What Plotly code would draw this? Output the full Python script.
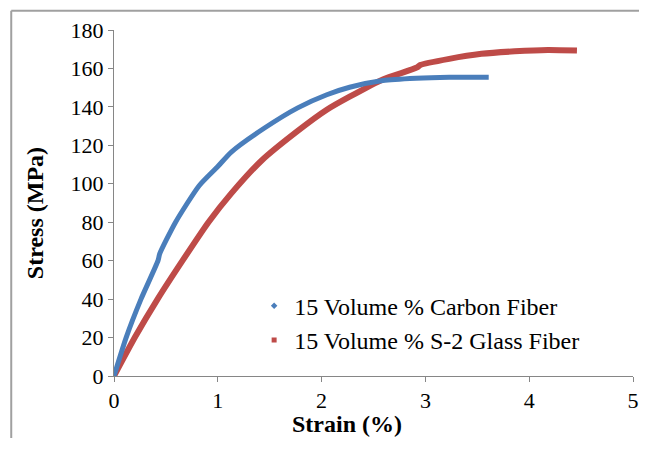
import plotly.graph_objects as go

# Data
carbon_strain = [0, 0.117, 0.26, 0.424, 0.44, 0.593, 0.82, 1.0, 1.13, 1.45, 1.77,
                 2.05, 2.27, 2.59, 2.91, 3.23, 3.61]
carbon_stress = [0, 20, 40, 60, 63.5, 80, 99, 109, 116.5, 129, 139.5,
                 146.3, 150.2, 153.7, 154.9, 155.4, 155.4]

glass_strain = [0, 0.2, 0.42, 0.66, 0.91, 1.13, 1.42, 1.77, 2.05, 2.27, 2.59, 2.92,
                2.95, 3.23, 3.54, 3.86, 4.18, 4.46]
glass_stress = [0, 20, 40, 60, 80, 95, 112, 127.5, 138.5, 145.3, 154.3, 160.5,
                161.8, 165, 167.6, 168.9, 169.6, 169.3]

series_names = ["15 Volume % Carbon Fiber", "15 Volume % S-2 Glass Fiber"]
x_ticks = [0, 1, 2, 3, 4, 5]
y_ticks = [0, 20, 40, 60, 80, 100, 120, 140, 160, 180]

BLUE = "#4A7EBB"
RED = "#BE4B48"
FONT = "Liberation Serif"

fig = go.Figure()
fig.add_trace(go.Scatter(x=glass_strain, y=glass_stress, mode="lines",
                         line=dict(color=RED, width=6, shape="spline", smoothing=0.6),
                         showlegend=False, hoverinfo="skip"))
fig.add_trace(go.Scatter(x=carbon_strain, y=carbon_stress, mode="lines",
                         line=dict(color=BLUE, width=5, shape="spline", smoothing=0.6),
                         showlegend=False, hoverinfo="skip"))
# legend entries (markers as in the reference)
fig.add_trace(go.Scatter(x=[None], y=[None], mode="markers", name=series_names[0],
                         marker=dict(symbol="diamond", size=5, color=BLUE)))
fig.add_trace(go.Scatter(x=[None], y=[None], mode="markers", name=series_names[1],
                         marker=dict(symbol="square", size=5, color=RED)))

axis_common = dict(showgrid=False, zeroline=False, showline=True, linecolor="#868686",
                   linewidth=1, ticks="outside", tickcolor="#868686", ticklen=5,
                   automargin=False,
                   tickfont=dict(family=FONT, size=22, color="black"))

fig.update_xaxes(range=[0, 5], tickvals=x_ticks, ticktext=[str(v) for v in x_ticks],
                 **axis_common)
fig.update_yaxes(range=[0, 180], tickvals=y_ticks, ticktext=[str(v) for v in y_ticks],
                 **axis_common)

# the page body adds an 8px margin, so the figure is sized/placed to fit inside it
fig.update_layout(
    width=631, height=430,
    margin=dict(l=106, r=6, t=22, b=62),
    paper_bgcolor="white", plot_bgcolor="white",
    font=dict(family=FONT, color="black"),
    legend=dict(x=0.27, y=0.267, xanchor="left", yanchor="top",
                font=dict(family=FONT, size=24, color="black"),
                bgcolor="rgba(0,0,0,0)", tracegroupgap=0, itemwidth=30),
    annotations=[
        dict(text="<b>Strain (%)</b>", xref="paper", yref="paper", x=0.449, y=-0.14,
             showarrow=False, font=dict(family=FONT, size=24, color="black"),
             xanchor="center", yanchor="middle"),
        dict(text="<b>Stress (MPa)</b>", xref="paper", yref="paper", x=-0.152, y=0.471,
             showarrow=False, textangle=-90, font=dict(family=FONT, size=24, color="black"),
             xanchor="center", yanchor="middle"),
    ],
    shapes=[
        dict(type="line", xref="paper", yref="paper", x0=-0.198, x1=1.05, y0=1.0557, y1=1.0557,
             line=dict(color="#a0a0a0", width=2)),
        dict(type="line", xref="paper", yref="paper", x0=-0.198, x1=-0.198, y0=1.0557, y1=-0.3,
             line=dict(color="#a0a0a0", width=2)),
    ],
)

fig.write_html("out.html")
